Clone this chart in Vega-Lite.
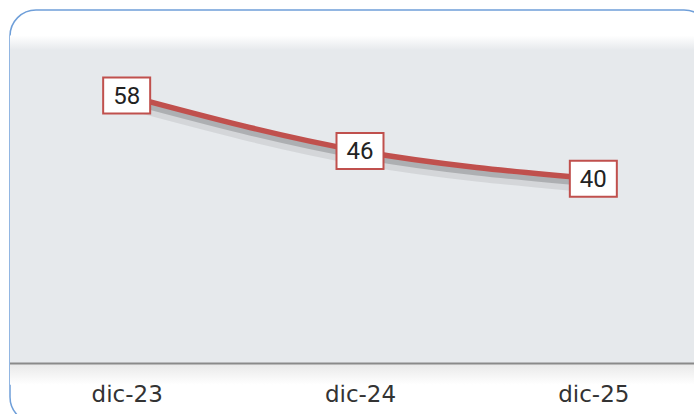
{
  "$schema": "https://vega.github.io/schema/vega-lite/v6.json",
  "description": "Line chart with boxed value labels, dic-23 to dic-25.",
  "width": 700,
  "height": 413,
  "autosize": {"type": "none"},
  "padding": {"left": 10, "top": 10, "right": -16, "bottom": -9},
  "background": "white",
  "config": {
    "view": {"fill": "white", "stroke": "#6f9fd9", "strokeWidth": 1.5, "cornerRadius": 26},
    "axisX": {
      "offset": -59,
      "zindex": 1,
      "domain": false,
      "ticks": false,
      "grid": false,
      "labelFont": "DejaVu Sans",
      "labelFontSize": 23,
      "labelColor": "#333333",
      "labelPadding": 19,
      "labelAngle": 0,
      "title": null
    }
  },
  "data": {
    "values": [
      {"mes": "dic-23", "valor": 58},
      {"mes": "dic-24", "valor": 46},
      {"mes": "dic-25", "valor": 40}
    ]
  },
  "layer": [
    {
      "data": {"values": [{"base": 0, "tope": 71}]},
      "mark": {
        "type": "rect",
        "color": {
          "gradient": "linear", "x1": 0, "y1": 0, "x2": 0, "y2": 1,
          "stops": [
            {"offset": 0, "color": "#ffffff"},
            {"offset": 0.045, "color": "#e6e9ec"},
            {"offset": 1, "color": "#e6e9ec"}
          ]
        }
      },
      "encoding": {
        "y": {"field": "base", "type": "quantitative", "scale": {"domain": [0, 71], "range": [353.5, 25.5], "nice": false, "zero": false}, "axis": null},
        "y2": {"field": "tope"}
      }
    },
    {
      "data": {"values": [{"base": 0, "fondo": -4.6}]},
      "mark": {
        "type": "rect",
        "color": {
          "gradient": "linear", "x1": 0, "y1": 0, "x2": 0, "y2": 1,
          "stops": [
            {"offset": 0, "color": "#e8e8e8"},
            {"offset": 1, "color": "#ffffff"}
          ]
        }
      },
      "encoding": {
        "y": {"field": "base", "type": "quantitative"},
        "y2": {"field": "fondo"}
      }
    },
    {
      "data": {"values": [{"base": 0}]},
      "mark": {"type": "rule", "color": "#8a8a8a", "strokeWidth": 2},
      "encoding": {
        "y": {"field": "base", "type": "quantitative"}
      }
    },
    {
      "mark": {"type": "line", "color": "#000000", "opacity": 0.08, "strokeWidth": 12, "yOffset": 8, "interpolate": "monotone", "strokeCap": "round"},
      "encoding": {
        "x": {"field": "mes", "type": "ordinal", "scale": {"type": "point", "padding": 0.5}},
        "y": {"field": "valor", "type": "quantitative"}
      }
    },
    {
      "mark": {"type": "line", "color": "#000000", "opacity": 0.18, "strokeWidth": 6, "yOffset": 5, "interpolate": "monotone", "strokeCap": "round"},
      "encoding": {
        "x": {"field": "mes", "type": "ordinal"},
        "y": {"field": "valor", "type": "quantitative"}
      }
    },
    {
      "mark": {"type": "line", "color": "#c0504d", "strokeWidth": 5.5, "interpolate": "monotone", "strokeCap": "round"},
      "encoding": {
        "x": {"field": "mes", "type": "ordinal"},
        "y": {"field": "valor", "type": "quantitative"}
      }
    },
    {
      "mark": {
        "type": "point",
        "shape": "M-1,-0.766L1,-0.766L1,0.766L-1,0.766Z",
        "size": 2209,
        "filled": true,
        "fill": "#ffffff",
        "stroke": "#c0504d",
        "strokeWidth": 2,
        "opacity": 1
      },
      "encoding": {
        "x": {"field": "mes", "type": "ordinal"},
        "y": {"field": "valor", "type": "quantitative"}
      }
    },
    {
      "mark": {"type": "text", "font": "Roboto", "fontSize": 24, "color": "#222222", "baseline": "middle", "dy": 1},
      "encoding": {
        "x": {"field": "mes", "type": "ordinal"},
        "y": {"field": "valor", "type": "quantitative"},
        "text": {"field": "valor", "type": "quantitative"}
      }
    }
  ]
}
